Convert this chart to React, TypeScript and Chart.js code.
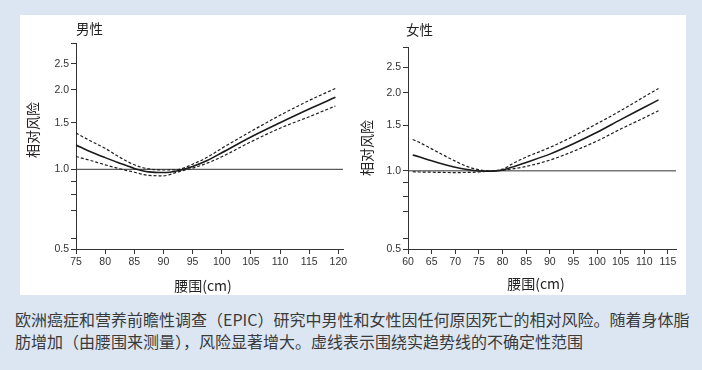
import React, { useEffect, useRef } from "react";
import { Chart, registerables } from "chart.js";
Chart.register(...registerables);

// ---- Data ----
const MEN_X = [75, 77.5, 80, 82.5, 85, 87.5, 90, 92.5, 95, 97.5, 100, 105, 110, 115, 119.5];
const MEN_RR = [1.235, 1.165, 1.107, 1.055, 1.008, 0.978, 0.972, 0.988, 1.025, 1.08, 1.155, 1.325, 1.5, 1.69, 1.87];
const MEN_UPPER = [1.37, 1.28, 1.2, 1.11, 1.04, 1.003, 0.994, 0.998, 1.045, 1.11, 1.2, 1.39, 1.6, 1.82, 2.02];
const MEN_LOWER = [1.118, 1.08, 1.04, 1.005, 0.975, 0.948, 0.945, 0.978, 1.01, 1.055, 1.115, 1.27, 1.43, 1.58, 1.735];

const WOMEN_X = [61, 62.5, 65, 67.5, 70, 72.5, 75, 77.5, 80, 82.5, 85, 90, 95, 100, 105, 110, 113];
const WOMEN_RR = [1.152, 1.13, 1.093, 1.06, 1.032, 1.012, 0.999, 0.997, 1.008, 1.04, 1.078, 1.16, 1.272, 1.408, 1.575, 1.757, 1.877];
const WOMEN_UPPER = [1.32, 1.285, 1.215, 1.15, 1.09, 1.04, 1.01, 1.0, 1.015, 1.075, 1.13, 1.23, 1.36, 1.52, 1.705, 1.93, 2.075];
const WOMEN_LOWER = [0.992, 0.99, 0.988, 0.986, 0.985, 0.986, 0.99, 0.998, 1.005, 1.02, 1.04, 1.1, 1.19, 1.303, 1.449, 1.602, 1.705];

const MEN_X_TICKS = [75, 80, 85, 90, 95, 100, 105, 110, 115, 120];
const WOMEN_X_TICKS = [60, 65, 70, 75, 80, 85, 90, 95, 100, 105, 110, 115];
const Y_TICKS = [0.5, 0.55, 0.7, 0.8, 0.9, 1, 1.5, 2, 2.5, 3];
const Y_LABELED = [0.5, 1, 1.5, 2, 2.5];
const REFERENCE_RR = 1;

const MEN_TITLE = "男性";
const WOMEN_TITLE = "女性";
const Y_TITLE = "相对风险";
const X_TITLE = "腰围(cm)";
const CAPTION_1 = "欧洲癌症和营养前瞻性调查（EPIC）研究中男性和女性因任何原因死亡的相对风险。随着身体脂";
const CAPTION_2 = "肪增加（由腰围来测量），风险显著增大。虚线表示围绕实趋势线的不确定性范围";

const CJK = "'Noto Sans CJK SC', 'Noto Sans', sans-serif";
const TICK_FONT = "'Liberation Sans', Arial, sans-serif";

function pts(xs: number[], ys: number[]) {
  return xs.map((x, i) => ({ x, y: ys[i] }));
}

type PanelProps = {
  xs: number[];
  rr: number[];
  upper: number[];
  lower: number[];
  xTicks: number[];
  xMin: number;
  xMax: number;
  left: number;
  width: number;
  height: number;
  padTop: number;
  padRight: number;
  yWidth: number;
  xHeight: number;
};

function Panel(p: PanelProps) {
  const ref = useRef<HTMLCanvasElement>(null);
  useEffect(() => {
    const dashed = {
      borderColor: "#1e1e1e",
      borderWidth: 1.2,
      borderDash: [3, 2],
      pointRadius: 0,
      cubicInterpolationMode: "monotone" as const,
    };
    const chart = new Chart(ref.current!, {
      type: "line",
      data: {
        datasets: [
          { data: pts(p.xs, p.upper), ...dashed },
          {
            data: pts(p.xs, p.rr),
            borderColor: "#1a1a1a",
            borderWidth: 1.6,
            pointRadius: 0,
            cubicInterpolationMode: "monotone",
          },
          { data: pts(p.xs, p.lower), ...dashed },
          {
            data: pts([p.xMin, p.xMax], [REFERENCE_RR, REFERENCE_RR]),
            borderColor: "#333",
            borderWidth: 1,
            pointRadius: 0,
          },
        ],
      },
      options: {
        animation: false,
        responsive: false,
        devicePixelRatio: 1,
        layout: { padding: { left: 0, top: p.padTop, right: p.padRight, bottom: 0 } },
        plugins: { legend: { display: false }, tooltip: { enabled: false } },
        scales: {
          x: {
            type: "linear",
            min: p.xMin,
            max: p.xMax,
            afterBuildTicks: (s: any) => {
              s.ticks = p.xTicks.map((v) => ({ value: v }));
            },
            afterFit: (s: any) => {
              s.height = p.xHeight;
            },
            grid: { display: true, drawOnChartArea: false, drawTicks: true, tickLength: 5, color: "#333" },
            border: { display: true, color: "#333", width: 1 },
            ticks: {
              color: "#333",
              font: { family: TICK_FONT, size: 10.5 },
              padding: 2,
              maxRotation: 0,
              autoSkip: false,
              callback: (v: any) => String(v),
            },
          },
          y: {
            type: "logarithmic",
            min: 0.5,
            max: 3,
            afterBuildTicks: (s: any) => {
              s.ticks = Y_TICKS.map((v) => ({ value: v }));
            },
            afterFit: (s: any) => {
              s.width = p.yWidth;
            },
            grid: { display: true, drawOnChartArea: false, drawTicks: true, tickLength: 5, color: "#333" },
            border: { display: true, color: "#333", width: 1 },
            ticks: {
              color: "#333",
              font: { family: TICK_FONT, size: 10.5 },
              padding: 2,
              autoSkip: false,
              callback: (v: any) => (Y_LABELED.includes(Number(v)) ? Number(v).toFixed(1) : ""),
            },
          },
        },
      },
    } as any);
    return () => chart.destroy();
  }, []);
  return (
    <canvas
      ref={ref}
      width={p.width}
      height={p.height}
      style={{ position: "absolute", left: p.left, top: 0, width: p.width, height: p.height }}
    />
  );
}

const txt = (extra: React.CSSProperties): React.CSSProperties => ({
  position: "absolute",
  fontFamily: CJK,
  color: "#222",
  whiteSpace: "nowrap",
  lineHeight: 1,
  ...extra,
});

export default function App() {
  return (
    <div
      style={{
        position: "absolute",
        left: 0,
        top: 0,
        width: 702,
        height: 370,
        background: "#dce6f2",
        overflow: "hidden",
      }}
    >
      <div style={{ position: "absolute", left: 20, top: 15, width: 666, height: 280, background: "#fff" }} />
      <Panel
        xs={MEN_X}
        rr={MEN_RR}
        upper={MEN_UPPER}
        lower={MEN_LOWER}
        xTicks={MEN_X_TICKS}
        xMin={75}
        xMax={120.8}
        left={0}
        width={380}
        height={300}
        padTop={43}
        padRight={37}
        yWidth={76}
        xHeight={51}
      />
      <Panel
        xs={WOMEN_X}
        rr={WOMEN_RR}
        upper={WOMEN_UPPER}
        lower={WOMEN_LOWER}
        xTicks={WOMEN_X_TICKS}
        xMin={60}
        xMax={116.7}
        left={330}
        width={372}
        height={300}
        padTop={47}
        padRight={26}
        yWidth={78}
        xHeight={51}
      />
      <div style={txt({ left: 76, top: 22, fontSize: 13.5 })}>{MEN_TITLE}</div>
      <div style={txt({ left: 406, top: 23, fontSize: 13.5 })}>{WOMEN_TITLE}</div>
      <div style={txt({ left: 32, top: 130, fontSize: 14, transform: "translate(-50%, -50%) rotate(-90deg)" })}>
        {Y_TITLE}
      </div>
      <div style={txt({ left: 366, top: 148, fontSize: 14, transform: "translate(-50%, -50%) rotate(-90deg)" })}>
        {Y_TITLE}
      </div>
      <div style={txt({ left: 203, top: 285, fontSize: 14, transform: "translate(-50%, -50%)" })}>{X_TITLE}</div>
      <div style={txt({ left: 536, top: 283, fontSize: 14, transform: "translate(-50%, -50%)" })}>{X_TITLE}</div>
      <div style={txt({ left: 15, top: 308, fontSize: 16, lineHeight: "22px", color: "#3a3a3a" })}>
        {CAPTION_1}
        <br />
        {CAPTION_2}
      </div>
    </div>
  );
}
